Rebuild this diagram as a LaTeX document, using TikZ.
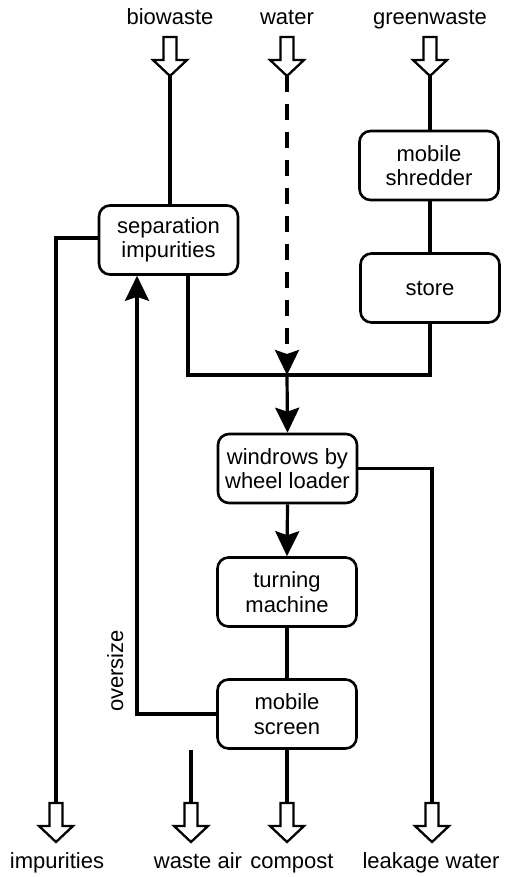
\documentclass[tikz,border=0pt]{standalone}
\usepackage{fontspec}
\setmainfont{Liberation Sans}
\usetikzlibrary{arrows.meta, positioning, calc}

\begin{document}
\begin{tikzpicture}[x=1pt, y=-1pt,
    box/.style={draw, line width=2.6pt, rounded corners=11pt, minimum width=139pt, minimum height=69pt,
        align=center, inner sep=0pt, font=\fontsize{22}{24.5}\selectfont},
    lbl/.style={inner sep=0pt, anchor=base, font=\fontsize{22}{24.5}\selectfont},
    flow/.style={line width=3.2pt},
    arrowed/.style={-{Stealth[length=25pt, width=24pt, inset=4pt]}},
    hollow/.pic={\draw[line width=2.3pt, fill=white] (-6.5,0) -- (-6.5,23) -- (-17,23) -- (0,39) -- (17,23) -- (6.5,23) -- (6.5,0) -- cycle;}
]
\useasboundingbox (0,0) rectangle (504,877);

% inputs
\node[lbl] (biowaste) at (170,25) {biowaste};
\node[lbl] (water) at (287,25) {water};
\node[lbl] (greenwaste) at (430,25) {greenwaste};
\coordinate (bioin) at (170,76);
\coordinate (waterin) at (287,76);
\coordinate (greenin) at (430,76);

% boxes
\node[box] (sep) at (168.5,240) {separation\\impurities};
\node[box] (shredder) at (429,165.5) {mobile\\shredder};
\node[box] (store) at (430,288) {store};
\node[box] (windrows) at (287.5,468.5) {windrows by\\wheel loader};
\node[box] (turning) at (287,592) {turning\\machine};
\node[box] (screen) at (287,714) {mobile\\screen};
\coordinate (merge) at (287,375);

% outputs
\coordinate (impout) at (56,803);
\coordinate (airtop) at (191,750);
\coordinate (airout) at (191,803);
\coordinate (compout) at (287,803);
\coordinate (leakout) at (432,803);
\node[lbl] (impurities) at (57,868) {impurities};
\node[lbl] (wasteair) at (198,868) {waste air};
\node[lbl] (compost) at (292,868) {compost};
\node[lbl] (leakage) at (431,868) {leakage water};
\node[lbl, rotate=90] (oversize) at (123,671) {oversize};

% connectors
\draw[flow] (bioin) -- (sep.north -| bioin);
\draw[flow] (greenin) -- (shredder.north -| greenin);
\draw[flow] (shredder.south -| greenin) -- (store.north -| greenin);
\draw[flow] (sep.west |- 0,238) -| (impout);
\draw[flow] ($(sep.south)+(19.5,0)$) |- (store.south |- merge) -- (store.south);
\draw[flow, arrowed, dashed, dash pattern=on 16pt off 12pt] (waterin) -- (merge);
\draw[flow, arrowed] (merge) -- (windrows.north);
\draw[flow] (windrows.east) -| (leakout);
\draw[flow, arrowed] (windrows.south) -- (turning.north);
\draw[flow] (turning.south) -- (screen.north);
\draw[flow, arrowed] (screen.west) -| (sep.south -| 137,0);
\draw[flow] (screen.south) -- (compout);
\draw[flow] (airtop) -- (airout);

% hollow arrows
\pic at (170,37) {hollow};
\pic at (287,37) {hollow};
\pic at (430,37) {hollow};
\pic at (impout) {hollow};
\pic at (airout) {hollow};
\pic at (compout) {hollow};
\pic at (leakout) {hollow};
\end{tikzpicture}
\end{document}
